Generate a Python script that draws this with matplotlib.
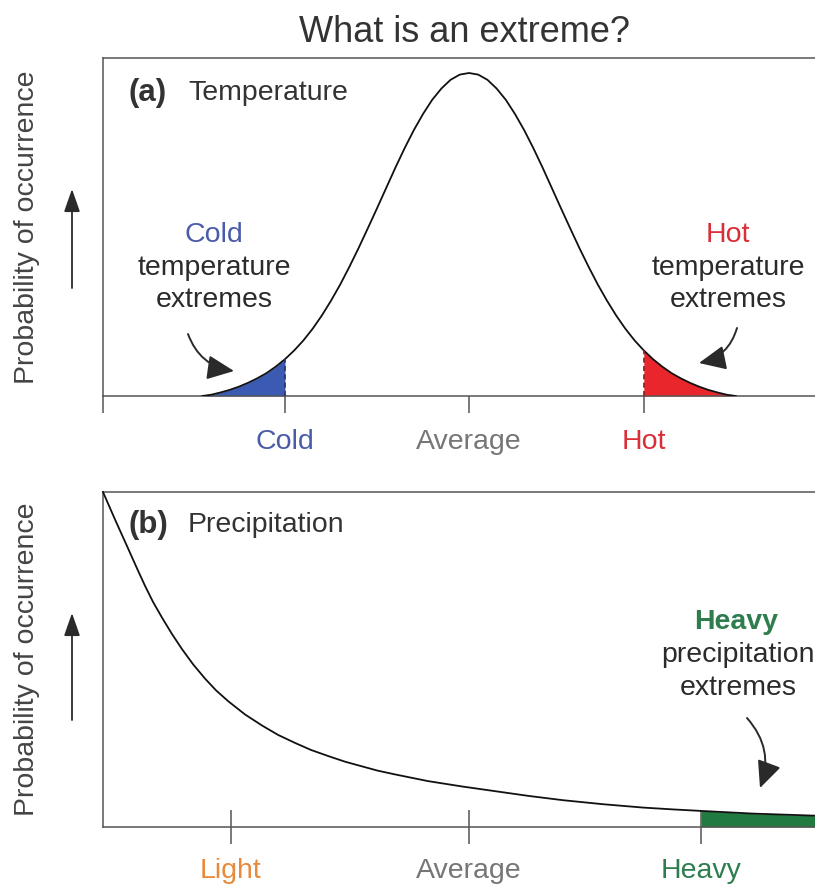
import matplotlib
matplotlib.use("Agg")
import matplotlib.pyplot as plt
from matplotlib.patches import FancyArrowPatch
import numpy as np

plt.rcParams['font.family'] = ['Liberation Sans', 'DejaVu Sans']

# ---------------- data ----------------
# Panel (a): temperature distribution (x in std-dev-like units, y relative probability)
temp_x = [-2.9, -2.8, -2.7, -2.6, -2.5, -2.4, -2.3, -2.2, -2.1, -2.0,
          -1.9, -1.8, -1.7, -1.6, -1.5, -1.4, -1.3, -1.2, -1.1, -1.0,
          -0.9, -0.8, -0.7, -0.6, -0.5, -0.4, -0.3, -0.2, -0.1, 0.0,
          0.1, 0.2, 0.3, 0.4, 0.5, 0.6, 0.7, 0.8, 0.9, 1.0,
          1.1, 1.2, 1.3, 1.4, 1.5, 1.6, 1.7, 1.8, 1.9, 2.0,
          2.1, 2.2, 2.3, 2.4, 2.5, 2.6, 2.7, 2.8, 2.9]
temp_y = [0.000, 0.004, 0.011, 0.019, 0.029, 0.041, 0.055, 0.071, 0.091, 0.114,
          0.141, 0.172, 0.208, 0.249, 0.295, 0.345, 0.400, 0.458, 0.519, 0.581,
          0.644, 0.707, 0.767, 0.823, 0.873, 0.917, 0.952, 0.979, 0.995, 1.000,
          0.995, 0.979, 0.952, 0.917, 0.873, 0.823, 0.767, 0.707, 0.644, 0.581,
          0.519, 0.458, 0.400, 0.345, 0.295, 0.249, 0.208, 0.172, 0.141, 0.114,
          0.091, 0.071, 0.055, 0.041, 0.029, 0.019, 0.011, 0.004, 0.000]
temp_ticks = [-2.0, 0.0, 1.9]
temp_labels = ['Cold', 'Average', 'Hot']
cold_threshold = -2.0
hot_threshold = 1.9

# Panel (b): precipitation distribution
prec_x = [0.00, 0.12, 0.25, 0.34, 0.42, 0.50, 0.59, 0.69, 0.79, 0.90, 1.02, 1.13,
          1.25, 1.42, 1.59, 1.75, 1.92, 2.08, 2.25, 2.42, 2.59, 2.75, 2.92, 3.25,
          3.59, 3.92, 4.25, 4.60, 5.00, 5.40, 5.70, 5.98, 6.50, 7.40]
prec_y = [1.000, 0.918, 0.832, 0.772, 0.720, 0.672, 0.625, 0.576, 0.531, 0.486, 0.443, 0.408,
          0.376, 0.336, 0.303, 0.275, 0.251, 0.230, 0.212, 0.195, 0.181, 0.168, 0.157, 0.137,
          0.121, 0.107, 0.093, 0.080, 0.068, 0.058, 0.0525, 0.048, 0.040, 0.031]
prec_ticks = [1.28, 3.66, 5.98]
prec_labels = ['Light', 'Average', 'Heavy']
heavy_threshold = 5.98

# ---------------- style ----------------
W, H = 815, 886
TXT = '#2b2b2b'
SPINE = '#555555'
BLUE = '#3b5bb3'
RED = '#e8262b'
GREEN = '#217a40'
COLD_TXT = '#4a5ca8'
HOT_TXT = '#d92f38'
AVG_TXT = '#767676'
LIGHT_TXT = '#e88a3c'
HEAVY_TXT = '#2f7d4f'
FS = 20.5


def px(x, y):
    return (x / W, 1 - y / H)


fig = plt.figure(figsize=(W / 100, H / 100), dpi=100)

# ---------------- panel (a) ----------------
ax1 = fig.add_axes([103 / W, (H - 396) / H, 732 / W, 338 / H])
tx = np.array(temp_x)
ty = np.array(temp_y)
ax1.plot(tx, ty, color='#111111', lw=1.3, zorder=3)
mc = tx <= cold_threshold
mh = tx >= hot_threshold
ax1.fill_between(tx[mc], 0, ty[mc], color=BLUE, lw=0, zorder=2)
ax1.fill_between(tx[mh], 0, ty[mh], color=RED, lw=0, zorder=2)
ax1.vlines(cold_threshold, 0, ty[list(temp_x).index(cold_threshold)], colors='#23346f',
           linestyles=(0, (3, 2)), lw=1.2, zorder=3)
ax1.vlines(hot_threshold, 0, ty[list(temp_x).index(hot_threshold)], colors='#8a1616',
           linestyles=(0, (3, 2)), lw=1.2, zorder=3)
ax1.set_xlim(-3.978, 3.978)
ax1.set_ylim(0, 338 / 323)
ax1.set_xticks([-3.978] + temp_ticks)
ax1.set_xticklabels([''] + temp_labels)
ax1.set_yticks([])
ax1.tick_params(axis='x', direction='out', length=12, width=1.1, color=SPINE,
                labelsize=FS, pad=12)
for lab, c in zip(ax1.get_xticklabels()[1:], [COLD_TXT, AVG_TXT, HOT_TXT]):
    lab.set_color(c)
for s in ['left', 'top', 'bottom']:
    ax1.spines[s].set_color(SPINE)
    ax1.spines[s].set_linewidth(1.1)
ax1.spines['right'].set_visible(False)

# ---------------- panel (b) ----------------
ax2 = fig.add_axes([103 / W, (H - 827) / H, 732 / W, 335 / H])
pxv = np.array(prec_x)
pyv = np.array(prec_y)
ax2.plot(pxv, pyv, color='#111111', lw=1.3, zorder=3, clip_on=False)
mhv = pxv >= heavy_threshold
ax2.fill_between(pxv[mhv], 0, pyv[mhv], color=GREEN, lw=0, zorder=2)
ax2.set_xlim(0, 7.32)
ax2.set_ylim(0, 1.0)
ax2.set_xticks(prec_ticks)
ax2.set_xticklabels(prec_labels)
ax2.set_yticks([])
ax2.tick_params(axis='x', direction='inout', length=24, width=1.1, color=SPINE,
                labelsize=FS, pad=10)
for lab, c in zip(ax2.get_xticklabels(), [LIGHT_TXT, AVG_TXT, HEAVY_TXT]):
    lab.set_color(c)
for s in ['left', 'top', 'bottom']:
    ax2.spines[s].set_color(SPINE)
    ax2.spines[s].set_linewidth(1.1)
ax2.spines['right'].set_visible(False)

# ---------------- texts ----------------
fig.text(*px(464, 32), 'What is an extreme?', fontsize=26, color='#333333',
         ha='center', va='center')

fig.text(*px(129, 93), '(a)', fontsize=22.5, fontweight='bold', color='#333333',
         ha='left', va='center')
fig.text(*px(188, 93), 'Temperature', fontsize=FS, color='#333333', ha='left', va='center')
fig.text(*px(129, 525), '(b)', fontsize=22.5, fontweight='bold', color='#333333',
         ha='left', va='center')
fig.text(*px(188, 525), 'Precipitation', fontsize=FS, color='#333333', ha='left', va='center')

for yc in [227, 659]:
    fig.text(*px(27, yc), 'Probability of occurrence', fontsize=FS, color='#444444',
             rotation=90, ha='center', va='center')

# vertical "increasing" arrows
for (y0, y1) in [(288, 189), (720, 613)]:
    fig.add_artist(FancyArrowPatch(px(72, y0), px(72, y1), transform=fig.transFigure,
                                   arrowstyle='-|>,head_length=1.0,head_width=0.35',
                                   mutation_scale=14, shrinkA=0, shrinkB=0,
                                   color='#2a2a2a', lw=1.3))

# Cold annotation
fig.text(*px(214, 235), 'Cold', fontsize=FS, color=COLD_TXT, ha='center', va='center')
fig.text(*px(214, 268), 'temperature', fontsize=FS, color=TXT, ha='center', va='center')
fig.text(*px(214, 300), 'extremes', fontsize=FS, color=TXT, ha='center', va='center')
# Hot annotation
fig.text(*px(728, 235), 'Hot', fontsize=FS, color=HOT_TXT, ha='center', va='center')
fig.text(*px(728, 268), 'temperature', fontsize=FS, color=TXT, ha='center', va='center')
fig.text(*px(728, 300), 'extremes', fontsize=FS, color=TXT, ha='center', va='center')
# Heavy annotation
fig.text(*px(736, 622), 'Heavy', fontsize=FS, fontweight='bold', color=HEAVY_TXT,
         ha='center', va='center')
fig.text(*px(738, 655), 'precipitation', fontsize=FS, color=TXT, ha='center', va='center')
fig.text(*px(738, 688), 'extremes', fontsize=FS, color=TXT, ha='center', va='center')

curved = [((188, 334), (234, 371), 0.3),
          ((737, 328), (699, 363), -0.3),
          ((747, 718), (760, 788), -0.3)]
for (a, b, r) in curved:
    fig.add_artist(FancyArrowPatch(px(*a), px(*b), transform=fig.transFigure,
                                   connectionstyle=f'arc3,rad={r}',
                                   arrowstyle='-|>,head_length=1.1,head_width=0.5',
                                   mutation_scale=15, shrinkA=0, shrinkB=0,
                                   color='#2a2a2a', lw=1.4))

fig.savefig('out.png', dpi=100)
